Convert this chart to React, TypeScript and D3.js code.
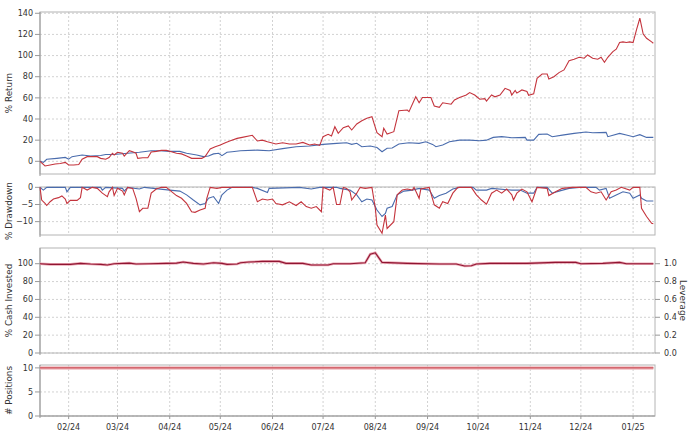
import React from 'react';
import * as d3 from 'd3';

// ---- data (day offsets from START_DATE) ----
const START_DATE = '2024-01-15';
const END_DATE = '2025-01-14';

const monthTickLabels = ['02/24', '03/24', '04/24', '05/24', '06/24', '07/24', '08/24', '09/24', '10/24', '11/24', '12/24', '01/25'];

const strategyReturnDays = [0, 3, 6, 9, 12, 15, 17, 20, 23, 25, 28, 31, 34, 36, 39, 41, 43, 44, 46, 49, 50, 53, 55, 57, 58, 61, 64, 66, 69, 72, 75, 78, 81, 84, 87, 90, 93, 96, 98, 101, 104, 107, 110, 113, 117, 120, 126, 129, 132, 135, 140, 144, 148, 152, 156, 160, 163, 166, 168, 171, 173, 175, 177, 180, 183, 185, 188, 191, 194, 197, 200, 203, 204, 206, 210, 213, 218, 219, 223, 225, 227, 232, 234, 237, 239, 244, 246, 249, 253, 255, 258, 261, 264, 265, 268, 270, 273, 276, 279, 280, 282, 283, 286, 289, 290, 293, 295, 298, 301, 302, 305, 308, 311, 314, 317, 320, 323, 325, 328, 331, 333, 335, 337, 340, 342, 344, 346, 348, 350, 352, 354, 356, 358, 360, 363, 364];
const strategyReturnValues = [0, -4.4, -3.5, -2.5, -2, -1, -3.5, -3.5, -3, 2, 4.4, 4.4, 4.4, 2.8, 2, 3.6, 7.6, 6, 8.5, 7.6, 5, 10, 9, 7.6, 2.8, 3.4, 3.4, 8.8, 9.4, 10.3, 10.3, 9, 7.6, 7, 5, 2.8, 2.8, 2.8, 4.4, 11.6, 13.8, 15.4, 17.6, 19.5, 21.7, 22.6, 24.6, 19.2, 20, 18.5, 16.4, 17.6, 16.4, 16.4, 17.9, 15.4, 16.4, 15, 23.3, 25.5, 24, 32.7, 26.5, 31.8, 33.4, 29.6, 35.3, 38.4, 40.7, 42.2, 27, 23.3, 31.2, 25.8, 28, 47.9, 48.5, 47, 61, 55.4, 60.4, 60.4, 52.3, 51, 55.4, 54, 58, 60.4, 62.7, 65, 62.7, 58.7, 59.3, 57, 62.7, 61, 62.7, 69, 67, 62.7, 67, 64.5, 67.5, 66, 62.4, 63.8, 78.5, 82.6, 82.6, 77.9, 80, 83.9, 86.4, 95.2, 96.5, 98.4, 97.5, 100.6, 97.5, 96.5, 98.4, 93.6, 98.4, 103.7, 106, 112.3, 112.9, 112.3, 112.9, 112.3, 124.2, 135.3, 120.4, 116.4, 112.9, 111.6];

const benchmarkReturnDays = [0, 2, 4, 10, 15, 17, 19, 25, 30, 36, 39, 44, 52, 59, 66, 71, 77, 83, 87, 93, 97, 100, 103, 106, 108, 111, 114, 119, 129, 136, 144, 152, 160, 168, 176, 182, 185, 188, 191, 196, 200, 203, 206, 209, 213, 219, 225, 229, 233, 235, 239, 243, 249, 255, 261, 265, 269, 274, 280, 288, 289, 293, 296, 301, 304, 310, 317, 324, 328, 336, 337, 344, 348, 352, 356, 360, 364];
const benchmarkReturnValues = [0, -1, 1.9, 2.8, 3.7, 2, 4.4, 6, 5, 5.5, 6.4, 6.4, 7.6, 8.5, 10, 10, 9.4, 9.4, 7.6, 6, 4.4, 5, 7, 7.6, 5.4, 8.5, 9, 10, 10.6, 10, 12, 13.8, 14.5, 16, 17, 17.6, 16, 17, 13.8, 14.5, 13, 9, 12.3, 12.6, 16.4, 17.6, 17, 18.5, 16, 13.8, 15.4, 18.5, 20, 20, 19.5, 20, 22.6, 23.3, 22.3, 22.6, 20, 20, 25.5, 25.8, 23.3, 24.8, 26.4, 27.7, 27, 27.4, 23.3, 26.4, 24.8, 23.3, 25.2, 22.6, 22.6];

const strategyDrawdownDays = [0, 1, 3, 4, 6, 8, 11, 13, 15, 16, 18, 22, 24, 25, 28, 31, 34, 37, 40, 41, 43, 44, 46, 49, 50, 52, 55, 57, 59, 61, 64, 66, 69, 72, 75, 77, 81, 84, 87, 90, 92, 95, 98, 99, 101, 105, 108, 126, 129, 132, 135, 138, 140, 144, 148, 152, 155, 158, 161, 164, 167, 168, 172, 174, 176, 178, 180, 182, 184, 185, 188, 190, 193, 197, 199, 200, 203, 205, 206, 210, 212, 215, 218, 221, 222, 225, 226, 231, 234, 237, 239, 242, 245, 248, 256, 259, 262, 265, 268, 271, 274, 277, 280, 281, 283, 286, 289, 292, 295, 301, 302, 306, 310, 316, 324, 327, 330, 333, 336, 339, 342, 345, 350, 352, 356, 357, 360, 363, 364];
const strategyDrawdownValues = [0, -3.7, -4.7, -5.3, -4.2, -3.4, -3, -2.5, -3.4, -4.7, -3.8, -3.8, -3, 0, -0.8, 0, -0.3, -1.7, -2.7, -1.3, 0, -2.4, -0.3, -1.1, -2.2, 0, -0.3, -3.2, -7.1, -6.1, -6.1, -1.7, -0.5, 0, 0, -0.8, -2.4, -3.2, -4.7, -7.1, -7.3, -6.6, -6.1, -3.2, 0, -0.3, 0, 0, -4.2, -3.4, -3.7, -3.4, -4.7, -5.1, -4.2, -5.3, -4.2, -5.6, -6.1, -5.6, -7.1, 0, -0.8, 0, -5, -5, 0, -0.3, -1.3, -3.7, -1.7, 0, -0.3, 0, -6.1, -11, -13.4, -8.1, -12, -10, -2.2, -0.8, -0.5, -0.8, 0, -3.2, -0.5, 0, -5.1, -6.1, -4.2, -4.7, -1.7, 0, 0, -2.2, -3.7, -4.9, -1.7, -0.8, -1.7, -0.5, -2.2, -3.7, -1.7, -0.5, -1.3, -4.2, 0, -0.3, -2.4, -1.3, -0.3, 0, 0, -1.3, -1.7, -1.3, -3.7, -1.3, -0.8, 0, -0.8, 0, 0, -6.1, -8.5, -10.5, -10.6];

const benchmarkDrawdownDays = [0, 2, 4, 15, 16, 18, 36, 37, 39, 49, 50, 52, 59, 62, 77, 83, 87, 91, 95, 98, 100, 103, 106, 108, 111, 114, 126, 129, 135, 136, 154, 161, 166, 176, 178, 184, 188, 191, 194, 197, 200, 203, 205, 206, 209, 212, 216, 221, 225, 231, 234, 237, 241, 245, 249, 257, 259, 265, 268, 280, 285, 289, 293, 295, 301, 304, 308, 314, 320, 330, 332, 336, 338, 342, 346, 350, 352, 356, 357, 360, 364];
const benchmarkDrawdownValues = [0, -0.8, 0, 0, -1.3, 0, 0, -0.8, 0, -0.3, -1.1, 0, -0.5, 0, -0.8, -1.1, -2.2, -3.7, -5.1, -4.7, -3.2, -2.7, -4.7, -2.2, -0.8, 0, 0, -0.3, -1.5, -0.3, 0, -0.5, 0, 0, -0.3, -0.8, -2.2, -4.2, -3.4, -3.7, -6.6, -8.5, -7.6, -6.1, -5.6, -2.2, -1.1, -0.8, -0.3, -0.8, -3.2, -2.4, -1.7, -0.5, 0, 0, -0.8, -0.8, -0.3, -0.8, -0.8, -1.7, -1.7, 0, 0, -1.7, -1.1, -0.3, 0, 0, -0.8, -0.3, -3.2, -2.2, -1.3, -1.7, -3.2, -2.2, -3.2, -4, -4];

const cashInvestedDays = [0, 6, 18, 24, 30, 36, 40, 44, 53, 57, 65, 75, 81, 85, 91, 97, 103, 108, 111, 117, 119, 124, 132, 142, 146, 156, 161, 171, 174, 184, 193, 196, 199, 203, 218, 237, 247, 252, 256, 259, 267, 289, 306, 318, 321, 334, 344, 348, 364];
const cashInvestedValues = [100, 99.3, 99.3, 100.4, 99.6, 99.3, 98.5, 100, 100.7, 99.6, 100, 100.4, 100.7, 101.9, 100.4, 99.6, 101.1, 100.4, 99.3, 99.6, 101.1, 101.9, 102.6, 102.6, 100.4, 100.4, 98.5, 98.5, 100, 100, 101, 110.7, 112.2, 101.5, 100.4, 99.6, 99.6, 97.4, 97.8, 99.6, 100.4, 100.4, 101.5, 101.5, 100, 100.4, 101.5, 100, 100];

const positionsDays = [0, 364];
const positionsValues = [10, 10];

const returnTicks = [0, 20, 40, 60, 80, 100, 120, 140];
const drawdownTicks = [-10, -5, 0];
const cashTicks = [0, 20, 40, 60, 80, 100];
const leverageTicks = [0, 0.2, 0.4, 0.6, 0.8, 1.0];
const positionsTicks = [0, 5, 10];

// ---- styles / layout ----
const RED = '#c4343d';
const BLUE = '#4a6cad';
const GRID = '#d2d2d2';
const BORDER = '#b4b4b4';
const TEXT = '#333';
const FONT = 'DejaVu Sans, Verdana, sans-serif';
const LEFT = 40;
const RIGHT = 655;

const parse = d3.timeParse('%Y-%m-%d');
const start = parse(START_DATE) as Date;
const end = parse(END_DATE) as Date;
const toDate = (d: number) => d3.timeDay.offset(start, d);

const x = d3.scaleTime().domain([start, end]).range([LEFT, RIGHT]);
const monthTicks = d3.timeMonth.range(d3.timeMonth.ceil(d3.timeDay.offset(start, 1)), end);
const fmt = d3.timeFormat('%m/%y');

type Panel = { top: number; bottom: number; domain: [number, number]; ticks: number[]; title: string };

const panels: Panel[] = [
  { top: 12, bottom: 174, domain: [-12, 141.2], ticks: returnTicks, title: '% Return' },
  { top: 187, bottom: 235, domain: [-13.9, 0.1], ticks: drawdownTicks, title: '% Drawdown' },
  { top: 248, bottom: 353, domain: [0, 117.6], ticks: cashTicks, title: '% Cash Invested' },
  { top: 365, bottom: 416, domain: [0, 10.6], ticks: positionsTicks, title: '# Positions' },
];

function makeY(p: Panel) {
  return d3.scaleLinear().domain(p.domain).range([p.bottom, p.top]);
}

function linePath(y: d3.ScaleLinear<number, number>, days: number[], vals: number[]) {
  const gen = d3
    .line<number>()
    .x((_, i) => x(toDate(days[i])))
    .y((v) => y(v));
  return gen(vals) || '';
}

function PanelFrame({ p }: { p: Panel }) {
  const y = makeY(p);
  const cy = (p.top + p.bottom) / 2;
  return (
    <g>
      {p.ticks.map((t) => (
        <line key={'h' + t} x1={LEFT} x2={RIGHT} y1={y(t)} y2={y(t)} stroke={GRID} strokeDasharray="2,2" strokeWidth={1} />
      ))}
      {monthTicks.map((m) => (
        <line key={'v' + m.getTime()} x1={x(m)} x2={x(m)} y1={p.top} y2={p.bottom} stroke={GRID} strokeDasharray="2,2" strokeWidth={1} />
      ))}
      <rect x={LEFT} y={p.top} width={RIGHT - LEFT} height={p.bottom - p.top} fill="none" stroke={BORDER} strokeWidth={1} />
      <line x1={LEFT} x2={LEFT} y1={p.top} y2={p.bottom + 2} stroke="#999" strokeWidth={1} />
      {p.ticks.map((t) => (
        <g key={'t' + t}>
          <line x1={LEFT - 5} x2={LEFT} y1={y(t)} y2={y(t)} stroke="#999" />
          <text x={LEFT - 7} y={y(t)} dy="0.33em" textAnchor="end" fontSize={8} fill={TEXT} fontFamily={FONT}>
            {d3.format('d')(t)}
          </text>
        </g>
      ))}
      <text transform={`translate(12,${cy}) rotate(-90)`} textAnchor="middle" fontSize={8.8} fill={TEXT} fontFamily={FONT}>
        {p.title}
      </text>
    </g>
  );
}

export default function App() {
  const [p1, p2, p3, p4] = panels;
  const y1 = makeY(p1);
  const y2 = makeY(p2);
  const y3 = makeY(p3);
  const y4 = makeY(p4);
  const yLev = d3.scaleLinear().domain([0, p3.domain[1] / 100]).range([p3.bottom, p3.top]);

  return (
    <svg width={690} height={433} style={{ position: 'absolute', left: 0, top: 0, background: '#fff' }}>
      <rect width={690} height={433} fill="#fff" />
      {panels.map((p, i) => (
        <PanelFrame key={i} p={p} />
      ))}

      {/* Return panel */}
      <path d={linePath(y1, benchmarkReturnDays, benchmarkReturnValues)} fill="none" stroke={BLUE} strokeWidth={1.1} />
      <path d={linePath(y1, strategyReturnDays, strategyReturnValues)} fill="none" stroke={RED} strokeWidth={1.1} />

      {/* Drawdown panel */}
      <path d={linePath(y2, benchmarkDrawdownDays, benchmarkDrawdownValues)} fill="none" stroke={BLUE} strokeWidth={1.1} />
      <path d={linePath(y2, strategyDrawdownDays, strategyDrawdownValues)} fill="none" stroke={RED} strokeWidth={1.1} />

      {/* Cash invested panel */}
      <path d={linePath(y3, cashInvestedDays, cashInvestedValues)} fill="none" stroke="#eaa6b2" strokeWidth={2.6} />
      <path d={linePath(y3, cashInvestedDays, cashInvestedValues)} fill="none" stroke="#901532" strokeWidth={1.1} />
      {leverageTicks.map((t) => (
        <g key={'lv' + t}>
          <line x1={RIGHT} x2={RIGHT + 5} y1={yLev(t)} y2={yLev(t)} stroke="#999" />
          <text x={RIGHT + 9} y={yLev(t)} dy="0.33em" fontSize={8} fill={TEXT} fontFamily={FONT}>
            {d3.format('.1f')(t)}
          </text>
        </g>
      ))}
      <text transform={`translate(680,${(p3.top + p3.bottom) / 2}) rotate(90)`} textAnchor="middle" fontSize={8.8} fill={TEXT} fontFamily={FONT}>
        Leverage
      </text>

      {/* Positions panel */}
      <path d={linePath(y4, positionsDays, positionsValues)} fill="none" stroke="#efbcc0" strokeWidth={3.5} />
      <path d={linePath(y4, positionsDays, positionsValues)} fill="none" stroke={RED} strokeWidth={1} />

      {/* X axis */}
      <line x1={LEFT} x2={RIGHT} y1={p4.bottom} y2={p4.bottom} stroke="#999" />
      {monthTicks.map((m, i) => (
        <g key={'x' + i}>
          <line x1={x(m)} x2={x(m)} y1={p4.bottom} y2={p4.bottom + 3} stroke="#999" />
          <text x={x(m)} y={p4.bottom + 11} dy="0.33em" textAnchor="middle" fontSize={8} fill={TEXT} fontFamily={FONT}>
            {monthTickLabels[i] ?? fmt(m)}
          </text>
        </g>
      ))}
    </svg>
  );
}
